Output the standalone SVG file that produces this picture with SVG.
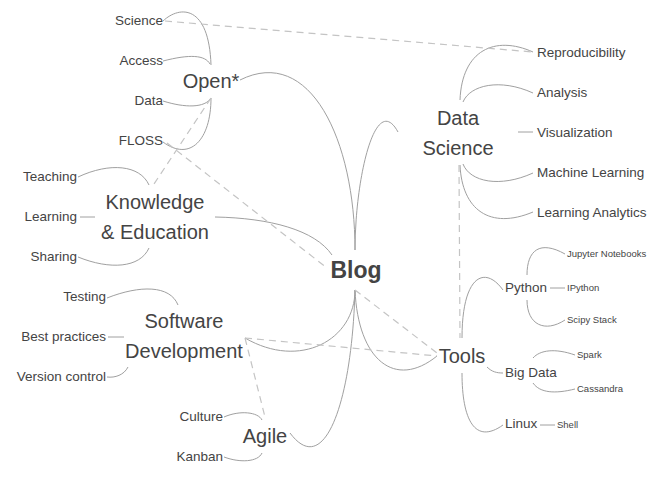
<svg xmlns="http://www.w3.org/2000/svg" width="665" height="477" viewBox="0 0 665 477">
<style>
text{font-family:"Liberation Sans",Arial,sans-serif;fill:#444}
.l{fill:none;stroke:#a0a0a0;stroke-width:1}
.d{fill:none;stroke:#c4c4c4;stroke-width:1.2;stroke-dasharray:7,5}
.c1{font-size:20px;text-anchor:middle}
.c0{font-size:23px;font-weight:bold;text-anchor:middle}
.s{font-size:13.5px}
.m{font-size:13.5px}
.x{font-size:9.5px}
.e{text-anchor:end}
</style>
<rect width="665" height="477" fill="#fff"/>
<g id="connectors">
<g id="solid">
<path class="l" d="M355,250 C355,140 310,45 240,80"/>
<path class="l" d="M355,250 C355,180 375,90 398,132"/>
<path class="l" d="M215,217 C270,218 315,230 332,255"/>
<path class="l" d="M355,290 C355,340 300,370 245,338"/>
<path class="l" d="M355,290 C352,400 325,480 290,433"/>
<path class="l" d="M355,290 C358,360 395,390 437,356"/>
<path class="l" d="M211,65 C209,5 180,5 163,21"/>
<path class="l" d="M210,64 C205,55 190,54 163,61"/>
<path class="l" d="M211,98 C205,108 185,108 163,101"/>
<path class="l" d="M211,98 C211,140 190,162 163,142"/>
<path class="l" d="M149,185 C140,165 110,162 78,177"/>
<path class="l" d="M80,217 L95,217"/>
<path class="l" d="M149,248 C140,268 110,270 78,257"/>
<path class="l" d="M178,305 C170,285 140,285 107,298"/>
<path class="l" d="M108,337 L124,337"/>
<path class="l" d="M128,367 C124,375 115,378 107,377"/>
<path class="l" d="M262,420 C258,412 240,410 224,417"/>
<path class="l" d="M262,453 C258,462 240,463 224,457"/>
<path class="l" d="M460,100 C462,50 495,35 533,52"/>
<path class="l" d="M463,102 C470,85 500,78 533,93"/>
<path class="l" d="M518,132 L533,132"/>
<path class="l" d="M463,164 C470,182 500,188 533,173"/>
<path class="l" d="M460,165 C462,210 490,230 533,212"/>
<path class="l" d="M462,338 C462,275 485,265 503,290"/>
<path class="l" d="M487,367 C492,372 497,373 503,373"/>
<path class="l" d="M462,373 C462,420 475,445 503,425"/>
<path class="l" d="M527,275 C527,250 540,240 565,254"/>
<path class="l" d="M550,288 L565,288"/>
<path class="l" d="M527,300 C527,325 545,333 565,320"/>
<path class="l" d="M533,358 C540,350 555,348 575,355"/>
<path class="l" d="M533,383 C540,393 555,394 575,389"/>
<path class="l" d="M540,425 L555,425"/>
</g>
<g id="dashed">
<path class="d" d="M165,21 L533,52"/>
<path class="d" d="M211,98 L152,187"/>
<path class="d" d="M167,143 L327,268"/>
<path class="d" d="M459,165 L460,338"/>
<path class="d" d="M355,290 L437,353"/>
<path class="d" d="M245,338 L437,356"/>
<path class="d" d="M245,338 L265,417"/>
</g>
</g>
<g id="blog"><text class="c0" x="356" y="278">Blog</text></g>
<g id="open"><text class="c1" x="211" y="88">Open*</text></g>
<g id="science"><text class="s e" x="163" y="25">Science</text></g>
<g id="access"><text class="s e" x="163" y="65">Access</text></g>
<g id="data"><text class="s e" x="163" y="105">Data</text></g>
<g id="floss"><text class="s e" x="163" y="145">FLOSS</text></g>
<g id="knowledge"><text class="c1" x="155" y="209">Knowledge</text><text class="c1" x="155" y="239">&amp; Education</text></g>
<g id="teaching"><text class="s e" x="77" y="181">Teaching</text></g>
<g id="learning"><text class="s e" x="77" y="221">Learning</text></g>
<g id="sharing"><text class="s e" x="77" y="261">Sharing</text></g>
<g id="software"><text class="c1" x="184" y="328">Software</text><text class="c1" x="184" y="358">Development</text></g>
<g id="testing"><text class="s e" x="106" y="301">Testing</text></g>
<g id="best"><text class="s e" x="106" y="341">Best practices</text></g>
<g id="version"><text class="s e" x="106" y="381">Version control</text></g>
<g id="agile"><text class="c1" x="265" y="443">Agile</text></g>
<g id="culture"><text class="s e" x="223" y="421">Culture</text></g>
<g id="kanban"><text class="s e" x="223" y="461">Kanban</text></g>
<g id="datascience"><text class="c1" x="458" y="125">Data</text><text class="c1" x="458" y="155">Science</text></g>
<g id="repro"><text class="s" x="537" y="57">Reproducibility</text></g>
<g id="analysis"><text class="s" x="537" y="97">Analysis</text></g>
<g id="visual"><text class="s" x="537" y="137">Visualization</text></g>
<g id="ml"><text class="s" x="537" y="177">Machine Learning</text></g>
<g id="la"><text class="s" x="537" y="217">Learning Analytics</text></g>
<g id="tools"><text class="c1" x="462" y="363">Tools</text></g>
<g id="python"><text class="m" x="505" y="292">Python</text></g>
<g id="bigdata"><text class="m" x="505" y="377">Big Data</text></g>
<g id="linux"><text class="m" x="505" y="428">Linux</text></g>
<g id="jupyter"><text class="x" x="567" y="257">Jupyter Notebooks</text></g>
<g id="ipython"><text class="x" x="567" y="291">IPython</text></g>
<g id="scipy"><text class="x" x="567" y="323">Scipy Stack</text></g>
<g id="spark"><text class="x" x="577" y="358">Spark</text></g>
<g id="cassandra"><text class="x" x="577" y="392">Cassandra</text></g>
<g id="shell"><text class="x" x="557" y="428">Shell</text></g>
</svg>
